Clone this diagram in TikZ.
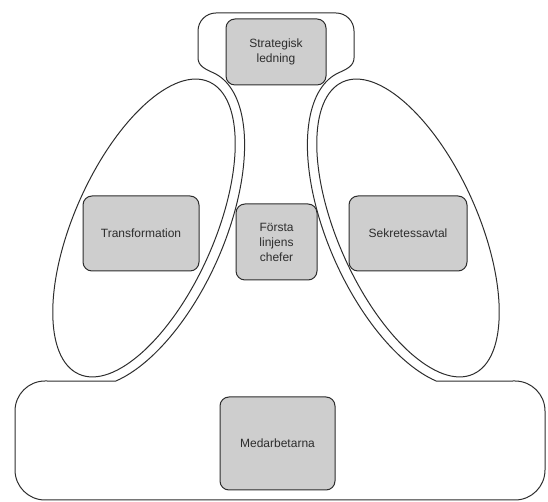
\documentclass[tikz,border=0pt]{standalone}
\usepackage{fontspec}
\setmainfont{Liberation Sans}
\usetikzlibrary{positioning}
\definecolor{boxgray}{RGB}{206,206,206}
\definecolor{linegray}{RGB}{45,45,45}

\begin{document}
\begin{tikzpicture}[x=1pt,y=1pt,line width=1pt,
  every node/.style={font=\fontsize{12}{15}\selectfont,align=center,text=linegray},
  unit/.style={draw=linegray,rounded corners=9pt,fill=boxgray,inner sep=2pt}]
\useasboundingbox (0,0) rectangle (548,502);
% the two side groups
\draw[linegray,rotate around={66:(144,274)}] (144,274) ellipse[x radius=160,y radius=70];
\draw[linegray,rotate around={114:(408,274)}] (408,274) ellipse[x radius=160,y radius=70];
% outer contour round everything
\draw[linegray] (198,444)
  .. controls (198,436) and (205.8,432.6) .. (213.1,429.3)
  -- plot[domain=0:153,samples=70,variable=\t]
     ({144+170*cos(\t)*cos(66)+80*sin(\t)*sin(66)},{274+170*cos(\t)*sin(66)-80*sin(\t)*cos(66)})
  -- (45,121) arc[start angle=90,end angle=180,radius=30]
  -- (15,32) arc[start angle=180,end angle=270,radius=30]
  -- (515,2) arc[start angle=270,end angle=360,radius=30]
  -- (545,91) arc[start angle=0,end angle=90,radius=30]
  -- plot[domain=0:153,samples=70,variable=\t]
     ({552-(144+170*cos(153-\t)*cos(66)+80*sin(153-\t)*sin(66))},{274+170*cos(153-\t)*sin(66)-80*sin(153-\t)*cos(66)})
  .. controls (346.2,432.6) and (354,436) .. (354,444)
  -- (354,471) arc[start angle=0,end angle=90,radius=18]
  -- (216,489) arc[start angle=90,end angle=180,radius=18]
  -- cycle;
% boxes
\node[unit,minimum width=100pt,minimum height=66pt] (strat) at (276,450) {Strategisk\\ledning};
\node[unit,minimum width=81pt,minimum height=76pt] (chef) at (276.5,260) {Första\\linjens\\chefer};
\node[unit,minimum width=116pt,minimum height=75pt,left=36pt of chef,yshift=8.5pt] (trans) {Transformation};
\node[unit,minimum width=118pt,minimum height=75pt,right=31pt of chef,yshift=8.5pt] (sekr) {Sekretessavtal};
\node[unit,minimum width=115pt,minimum height=93pt] (medarb) at (277.5,58.5) {Medarbetarna};
\end{tikzpicture}
\end{document}
